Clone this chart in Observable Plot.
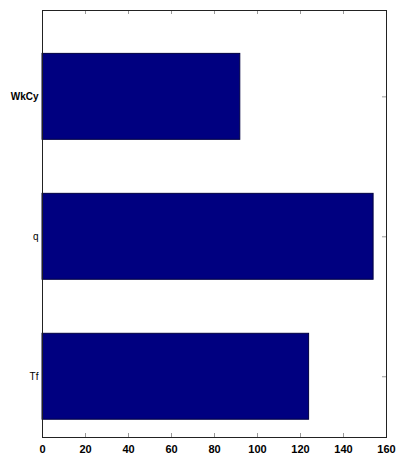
<!DOCTYPE html>
<html>
<head>
<meta charset="utf-8">
<script src="https://cdn.jsdelivr.net/npm/d3@7"></script>
<script src="https://cdn.jsdelivr.net/npm/@observablehq/plot@0.6"></script>
<style>
  html, body { margin: 0; padding: 0; background: #fff; }
  #chart svg { display: block; }
</style>
</head>
<body>
<div id="chart"></div>
<script>
const categories = ["Tf", "q", "WkCy"];
const values = [124, 154, 92];
const xTicks = [0, 20, 40, 60, 80, 100, 120, 140, 160];

const data = categories.map((c, i) => ({cat: c, idx: i, value: values[i]}));
const half = 0.307;
const W = 406, H = 464, mt = 10, mb = 27, ml = 42, mr = 20;
const innerH = H - mt - mb;
const innerW = W - ml - mr;
const fontFam = "'Liberation Sans', Arial, sans-serif";

const chart = Plot.plot({
  width: W,
  height: H,
  marginTop: mt,
  marginBottom: mb,
  marginLeft: ml,
  marginRight: mr,
  style: {fontFamily: fontFam, background: "#fff"},
  x: {domain: [0, 160], label: null},
  y: {domain: [-0.434, 2.617], label: null},
  marks: [
    Plot.ruleY([0, 1, 2], {y: d => d, insetRight: innerW - 4, stroke: "#999"}),
    Plot.rectX(data, {
      x1: 0, x2: "value",
      y1: d => d.idx - half, y2: d => d.idx + half,
      fill: "#000080", stroke: "#000040", strokeWidth: 1
    }),
    Plot.ruleX(xTicks, {x: d => d, insetTop: innerH - 4, stroke: "#999"}),
    Plot.ruleX(xTicks, {x: d => d, insetBottom: innerH - 4, stroke: "#999"}),
    Plot.ruleY([0, 1, 2], {y: d => d, insetLeft: innerW - 4, stroke: "#999"}),
    Plot.frame({stroke: "#222", strokeWidth: 1}),
    Plot.axisX({ticks: xTicks, tickSize: 0, tickPadding: 8, fontWeight: "bold", fontSize: 11, fill: "#000", tickFormat: d => String(d)}),
    Plot.axisY({ticks: [2], tickSize: 0, tickPadding: 4, fontWeight: "bold", fontSize: 10, fill: "#000", tickFormat: i => categories[i]}),
    Plot.axisY({ticks: [0, 1], tickSize: 0, tickPadding: 4, fontSize: 10, fill: "#000", tickFormat: i => categories[i]})
  ]
});
document.getElementById("chart").appendChild(chart);
</script>
</body>
</html>
